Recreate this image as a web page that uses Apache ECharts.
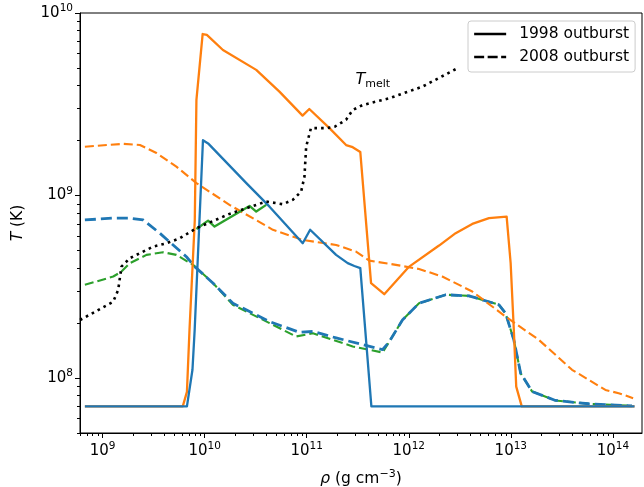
<!DOCTYPE html>
<html><head><meta charset="utf-8">
<script src="https://cdn.jsdelivr.net/npm/echarts@6/dist/echarts.min.js"></script>
<style>html,body{margin:0;padding:0;background:#fff}#c{width:644px;height:487px}</style>
</head><body><div id="c"></div>
<script>
const FONT = 'DejaVu Sans';

// ---- 1998 outburst (solid) ----
const orange1998Rho = [6.7e8, 6.1e9, 6.7e9, 7.1e9, 8.0e9, 8.3e9, 9.55e9, 1.05e10, 1.51e10, 3.2e10, 5.4e10, 9.1e10, 1.06e11, 1.67e11, 2.43e11, 2.82e11, 3.35e11, 4.27e11, 5.75e11, 1.01e12, 1.98e12, 2.88e12, 4.19e12, 6.11e12, 9.1e12, 9.96e12, 1.07e13, 1.13e13, 1.28e13, 1.63e14];
const orange1998T   = [7e7, 7e7, 8.4e7, 1.84e8, 7.35e8, 3.34e9, 7.67e9, 7.59e9, 6.27e9, 4.88e9, 3.71e9, 2.74e9, 2.98e9, 2.34e9, 1.89e9, 1.84e9, 1.73e9, 3.31e8, 2.88e8, 4.08e8, 5.32e8, 6.22e8, 6.99e8, 7.52e8, 7.66e8, 4.27e8, 1.84e8, 8.98e7, 7e7, 7e7];

const blue1998Rho = [6.7e8, 6.7e9, 7.59e9, 7.98e9, 9.62e9, 1.08e10, 2.56e10, 4.32e10, 9.14e10, 1.08e11, 1.94e11, 2.52e11, 2.93e11, 3.35e11, 4.3e11, 1.63e14];
const blue1998T   = [7e7, 7e7, 1.11e8, 1.84e8, 2.01e9, 1.93e9, 1.17e9, 8.69e8, 5.48e8, 6.49e8, 4.73e8, 4.26e8, 4.11e8, 4.0e8, 7e7, 7e7];

const green1998Rho = [8.3e9, 1.08e10, 1.25e10, 2.75e10, 3.2e10, 4.01e10];
const green1998T   = [6.56e8, 7.29e8, 6.76e8, 8.77e8, 8.17e8, 8.89e8];

// ---- 2008 outburst (dashed) ----
const orange2008Rho = [6.7e8, 1.59e9, 2.32e9, 3.37e9, 5.28e9, 8.3e9, 1.75e10, 4.66e10, 9.14e10, 1.94e11, 3.04e11, 4.1e11, 7.48e11, 1.26e12, 2.13e12, 4.19e12, 8.89e12, 1.88e13, 3.98e13, 8.45e13, 1.14e14, 1.58e14];
const orange2008T   = [1.85e9, 1.92e9, 1.89e9, 1.71e9, 1.44e9, 1.17e9, 8.89e8, 6.49e8, 5.71e8, 5.36e8, 4.93e8, 4.4e8, 4.17e8, 3.96e8, 3.6e8, 2.98e8, 2.17e8, 1.62e8, 1.11e8, 8.61e7, 8.26e7, 7.76e7];

const blue2008Rho = [6.7e8, 1.27e9, 1.85e9, 2.49e9, 3.63e9, 6.62e9, 7.98e9, 1.21e10, 1.89e10, 4.32e10, 8.49e10, 1.15e11, 1.94e11, 5.53e11, 6.43e11, 8.67e11, 1.26e12, 2.31e12, 3.89e12, 7.66e12, 8.89e12, 1.07e13, 1.25e13, 1.62e13, 2.74e13, 5.8e13, 1.54e14];
const blue2008T   = [7.35e8, 7.52e8, 7.52e8, 7.35e8, 6.22e8, 4.62e8, 4.08e8, 3.31e8, 2.57e8, 2.04e8, 1.78e8, 1.8e8, 1.66e8, 1.43e8, 1.58e8, 2.08e8, 2.57e8, 2.86e8, 2.82e8, 2.52e8, 2.26e8, 1.62e8, 1.06e8, 8.43e7, 7.54e7, 7.23e7, 7.04e7];

const green2008Rho = [6.7e8, 1.27e9, 1.53e9, 1.85e9, 2.69e9, 3.91e9, 5.28e9, 7.69e9, 1.21e10, 1.89e10, 4.32e10, 7.87e10, 1.15e11, 2.82e11, 5.53e11, 6.43e11, 8.67e11, 1.26e12, 2.31e12, 3.89e12, 7.66e12, 8.89e12, 1.07e13, 1.25e13, 1.62e13, 2.74e13, 5.8e13, 1.54e14];
const green2008T   = [3.24e8, 3.6e8, 3.83e8, 4.26e8, 4.73e8, 4.89e8, 4.73e8, 4.17e8, 3.31e8, 2.52e8, 2.0e8, 1.69e8, 1.76e8, 1.49e8, 1.38e8, 1.58e8, 2.08e8, 2.57e8, 2.86e8, 2.82e8, 2.52e8, 2.26e8, 1.62e8, 1.06e8, 8.43e7, 7.54e7, 7.23e7, 7.04e7];

// ---- melting temperature (dotted) ----
const meltRho = [6.0e8, 1.27e9, 1.42e9, 1.53e9, 1.85e9, 3.13e9, 4.23e9, 5.7e9, 8.3e9, 1.75e10, 4.01e10, 5.82e10, 7.3e10, 8.81e10, 9.5e10, 9.87e10, 1.1e11, 1.55e11, 1.87e11, 2.43e11, 2.82e11, 3.52e11, 6.43e11, 1.36e12, 2.88e12];
const meltT   = [2.08e8, 2.62e8, 3.04e8, 4.08e8, 4.54e8, 5.25e8, 5.48e8, 5.83e8, 6.62e8, 7.93e8, 9.27e8, 8.96e8, 9.47e8, 1.05e9, 1.27e9, 1.85e9, 2.34e9, 2.34e9, 2.38e9, 2.6e9, 2.94e9, 3.13e9, 3.41e9, 3.95e9, 4.92e9];
const meltLabelPos = [4.44e11, 4.3e9];

// ---- axes ----
const xMin = 6.0e8, xMax = 1.93e14, yMin = 5e7, yMax = 1e10;
const xMajorTicks = [1e9, 1e10, 1e11, 1e12, 1e13, 1e14];
const yMajorTicks = [1e8, 1e9, 1e10];
const legendNames = ['1998 outburst', '2008 outburst'];

const C_BLUE = '#1f77b4', C_ORANGE = '#ff7f0e', C_GREEN = '#2ca02c';
const DASH = [9, 4], DASH_BLUE = [11, 5], DOT = [2.6, 4.1], LEG_DASH = [10, 3.5];

function minors(lo, hi) {
  const out = [];
  for (let e = Math.floor(Math.log10(lo)); e <= Math.ceil(Math.log10(hi)); e++) {
    for (let m = 2; m <= 9; m++) {
      const v = m * Math.pow(10, e);
      if (v >= lo && v <= hi) out.push(v);
    }
  }
  return out;
}
function zip(a, b) { return a.map((v, i) => [v, b[i]]); }
function sci(v) { const e = Math.round(Math.log10(v)); return '{b|10}{s|' + e + '}'; }

const tickRich = {
  b: { fontFamily: FONT, fontSize: 15, lineHeight: 20, color: '#000' },
  s: { fontFamily: FONT, fontSize: 10.5, lineHeight: 8, verticalAlign: 'top', color: '#000' }
};
const blk = { color: '#000', width: 1 };

function mainAxis(min, max, major, extra) {
  return Object.assign({
    type: 'log', logBase: 10, min: min, max: max, gridIndex: 0,
    axisLine: { show: true, onZero: false, lineStyle: blk },
    axisTick: { show: true, customValues: major, length: 5, lineStyle: blk },
    axisLabel: { show: true, customValues: major, formatter: sci, rich: tickRich },
    splitLine: { show: false }, minorTick: { show: false }, minorSplitLine: { show: false }
  }, extra);
}
function minorAxis(min, max, position) {
  return {
    type: 'log', logBase: 10, min: min, max: max, gridIndex: 0, position: position,
    axisLine: { show: false },
    axisTick: { show: true, customValues: minors(min, max), length: 3, lineStyle: blk },
    axisLabel: { show: false }, splitLine: { show: false }
  };
}

function line(name, rho, T, color, width, type, z) {
  return {
    type: 'line', name: name, data: zip(rho, T), xAxisIndex: 0, yAxisIndex: 0,
    showSymbol: false, symbol: 'none', smooth: false, z: z,
    lineStyle: { color: color, width: width, type: type, cap: 'butt', join: 'round' },
    itemStyle: { color: color }, emphasis: { disabled: true }, silent: true
  };
}

const series = [
  line('g08', green2008Rho, green2008T, C_GREEN, 2.1, DASH, 2),
  line('b08', blue2008Rho, blue2008T, C_BLUE, 2.8, DASH_BLUE, 3),
  line('o08', orange2008Rho, orange2008T, C_ORANGE, 2.1, DASH, 4),
  line('o98', orange1998Rho, orange1998T, C_ORANGE, 2.3, 'solid', 5),
  line('g98', green1998Rho, green1998T, C_GREEN, 2.3, 'solid', 6),
  line('b98', blue1998Rho, blue1998T, C_BLUE, 2.3, 'solid', 7),
  Object.assign(line('melt', meltRho, meltT, '#000', 2.6, DOT, 8), {
    markPoint: {
      symbol: 'circle', symbolSize: 0, silent: true,
      label: {
        show: true, position: 'inside', formatter: '{i|T}{sub|melt}',
        rich: {
          i: { fontFamily: FONT, fontStyle: 'italic', fontSize: 16, lineHeight: 20, color: '#000' },
          sub: { fontFamily: FONT, fontSize: 11, lineHeight: 8, verticalAlign: 'bottom', color: '#000' }
        }
      },
      data: [{ coord: meltLabelPos }]
    }
  }),
  line(legendNames[0], [], [], '#000', 2.3, 'solid', 1),
  line(legendNames[1], [], [], '#000', 2.3, LEG_DASH, 1)
];

const chart = echarts.init(document.getElementById('c'), null, { renderer: 'canvas' });
chart.setOption({
  animation: false,
  backgroundColor: '#fff',
  textStyle: { fontFamily: FONT },
  grid: { left: 80, right: 2, top: 13, bottom: 54, show: true, borderColor: '#000', borderWidth: 1, containLabel: false, outerBoundsMode: 'none' },
  xAxis: [
    mainAxis(xMin, xMax, xMajorTicks, {
      position: 'bottom',
      axisLabel: { show: true, customValues: xMajorTicks, formatter: sci, rich: tickRich, margin: 8 },
      name: '{i|ρ} (g cm{s|−3})', nameLocation: 'middle', nameGap: 36,
      nameTextStyle: {
        fontFamily: FONT, fontSize: 15.5, color: '#000', lineHeight: 20,
        rich: {
          i: { fontFamily: FONT, fontStyle: 'italic', fontSize: 15.5, lineHeight: 20, color: '#000' },
          s: { fontFamily: FONT, fontSize: 11, lineHeight: 8, verticalAlign: 'top', color: '#000' }
        }
      }
    }),
    minorAxis(xMin, xMax, 'bottom')
  ],
  yAxis: [
    mainAxis(yMin, yMax, yMajorTicks, {
      position: 'left',
      axisLabel: { show: true, customValues: yMajorTicks, formatter: sci, rich: tickRich, margin: 7 },
      name: '{i|T} (K)', nameLocation: 'middle', nameRotate: 90, nameGap: 52,
      nameTextStyle: {
        fontFamily: FONT, fontSize: 15.5, color: '#000', lineHeight: 20,
        rich: { i: { fontFamily: FONT, fontStyle: 'italic', fontSize: 15.5, lineHeight: 20, color: '#000' } }
      }
    }),
    minorAxis(yMin, yMax, 'left')
  ],
  legend: {
    data: [
      { name: legendNames[0], itemStyle: { opacity: 0 }, lineStyle: { color: '#000', width: 2.3, type: 'solid' } },
      { name: legendNames[1], itemStyle: { opacity: 0 }, lineStyle: { color: '#000', width: 2.3, type: LEG_DASH } }
    ],
    orient: 'vertical', left: 468, top: 21,
    padding: [5, 6, 7, 5], itemGap: 7, itemWidth: 32, itemHeight: 16,
    itemStyle: { opacity: 0 },
    backgroundColor: 'rgba(255,255,255,0.8)', borderColor: '#cccccc', borderWidth: 1, borderRadius: 3,
    textStyle: { fontFamily: FONT, fontSize: 15.5, color: '#000', padding: [0, 0, 0, 8], lineHeight: 16 },
    selectedMode: false
  },
  series: series
});
</script></body></html>
